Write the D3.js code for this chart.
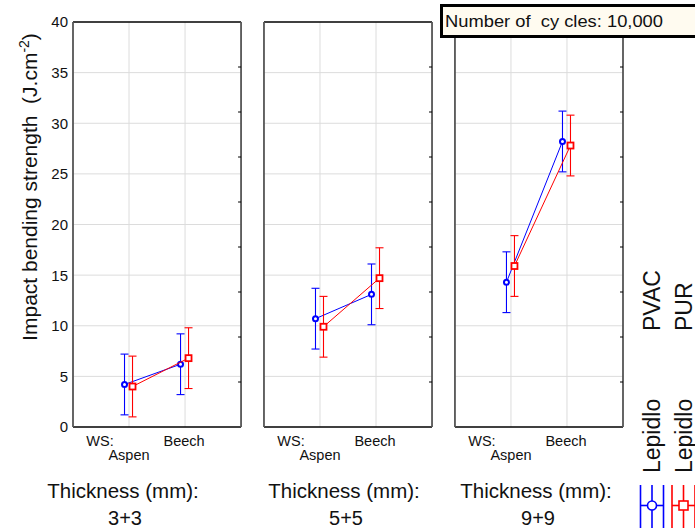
<!DOCTYPE html>
<html><head><meta charset="utf-8">
<script src="https://cdn.jsdelivr.net/npm/d3@7"></script>
<style>body{margin:0;background:#fff}svg{display:block;font-family:"Liberation Sans",Arial,sans-serif}</style>
</head><body><svg id="c" width="695" height="529"></svg>
<script>
const panels = ["3+3", "5+5", "9+9"];
const categories = ["Aspen", "Beech"];
const yTicks = [0, 5, 10, 15, 20, 25, 30, 35, 40];
const seriesNames = ["Lepidlo PVAC", "Lepidlo PUR"];
const pvacMean = [[4.2, 6.2], [10.7, 13.1], [14.3, 28.2]];
const pvacErr  = [[3.0, 3.0], [3.0, 3.0], [3.0, 3.0]];
const purMean  = [[4.0, 6.8], [9.9, 14.7], [15.9, 27.8]];
const purErr   = [[3.0, 3.0], [3.0, 3.0], [3.0, 3.0]];
const cyclesLabel = "Number of  cy cles: 10,000";

const svg = d3.select("#c");
const plotTop = 22, plotBottom = 427;
const px = d3.scaleBand().domain(panels).range([73, 623]).paddingInner(0.12);
const y = d3.scaleLinear().domain([0, 40]).range([plotBottom, plotTop]);
const yr = d3.scaleLinear().domain([0, 9]).range([plotBottom, plotTop]);
const series = [
  {name: seriesNames[0], mean: pvacMean, err: pvacErr, color: "#0000ff", off: -4.5, shape: "circle"},
  {name: seriesNames[1], mean: purMean, err: purErr, color: "#ff0000", off: 3.5, shape: "square"}
];
const thickCenters = [123, 344, 536];

panels.forEach((p, pi) => {
  const x0 = px(p), w = px.bandwidth();
  const x = d3.scalePoint().domain(categories).range([x0, x0 + w]).padding(1);
  const g = svg.append("g");
  g.selectAll(".hg").data(yTicks.slice(1, -1)).join("line")
    .attr("x1", x0).attr("x2", x0 + w).attr("y1", d => y(d)).attr("y2", d => y(d))
    .attr("stroke", "#dcdcdc").attr("stroke-width", 1);
  g.selectAll(".vg").data(categories).join("line")
    .attr("x1", d => x(d)).attr("x2", d => x(d)).attr("y1", plotTop).attr("y2", plotBottom)
    .attr("stroke", "#dcdcdc").attr("stroke-width", 1);
  g.append("line").attr("x1", x0).attr("x2", x0 + w).attr("y1", plotTop).attr("y2", plotTop).attr("stroke", "#000").attr("stroke-width", 1.3);
  g.append("line").attr("x1", x0).attr("x2", x0 + w).attr("y1", plotBottom).attr("y2", plotBottom).attr("stroke", "#000").attr("stroke-width", 1.3);
  g.append("line").attr("x1", x0).attr("x2", x0).attr("y1", plotTop).attr("y2", plotBottom).attr("stroke", "#555").attr("stroke-width", 1.8);
  g.append("line").attr("x1", x0 + w).attr("x2", x0 + w).attr("y1", plotTop).attr("y2", plotBottom).attr("stroke", "#555").attr("stroke-width", 1.8);
  g.selectAll(".rt").data(d3.range(1, 9)).join("line")
    .attr("x1", x0 + w - 3).attr("x2", x0 + w).attr("y1", d => yr(d)).attr("y2", d => yr(d))
    .attr("stroke", "#000").attr("stroke-width", 1);
  if (pi === 0) {
    g.selectAll(".yl").data(yTicks).join("text")
      .attr("x", x0 - 5).attr("y", d => y(d)).attr("dy", "0.36em")
      .attr("text-anchor", "end").attr("font-size", 15).attr("fill", "#111").text(d => d);
  }
  g.append("text").attr("x", x(categories[0]) - 29).attr("y", 446).attr("text-anchor", "middle").attr("font-size", 14.5).attr("fill", "#111").text("WS:");
  g.append("text").attr("x", x(categories[0])).attr("y", 460).attr("text-anchor", "middle").attr("font-size", 14.5).attr("fill", "#111").text(categories[0]);
  g.append("text").attr("x", x(categories[1]) - 1).attr("y", 446).attr("text-anchor", "middle").attr("font-size", 14.5).attr("fill", "#111").text(categories[1]);
  g.append("text").attr("x", thickCenters[pi]).attr("y", 498).attr("text-anchor", "middle").attr("font-size", 20.5).attr("fill", "#111").text("Thickness (mm):");
  g.append("text").attr("x", thickCenters[pi] + 2).attr("y", 525).attr("text-anchor", "middle").attr("font-size", 20).attr("fill", "#111").text(p);

  series.forEach(s => {
    const pts = categories.map((c, ci) => ({x: x(c) + s.off, m: s.mean[pi][ci], e: s.err[pi][ci]}));
    pts.forEach(d => {
      g.append("line").attr("x1", d.x).attr("x2", d.x).attr("y1", y(d.m - d.e)).attr("y2", y(d.m + d.e)).attr("stroke", s.color).attr("stroke-width", 1.1);
      [d.m - d.e, d.m + d.e].forEach(v => g.append("line").attr("x1", d.x - 4).attr("x2", d.x + 4).attr("y1", y(v)).attr("y2", y(v)).attr("stroke", s.color).attr("stroke-width", 1.1));
    });
    g.append("path").attr("d", d3.line().x(d => d.x).y(d => y(d.m))(pts)).attr("fill", "none").attr("stroke", s.color).attr("stroke-width", 1);
    pts.forEach(d => {
      if (s.shape === "circle") g.append("circle").attr("cx", d.x).attr("cy", y(d.m)).attr("r", 2.5).attr("fill", "#fff").attr("stroke", s.color).attr("stroke-width", 2);
      else g.append("rect").attr("x", d.x - 3).attr("y", y(d.m) - 3).attr("width", 6).attr("height", 6).attr("fill", "#fff").attr("stroke", s.color).attr("stroke-width", 1.8);
    });
  });
});

svg.append("text").attr("transform", "translate(37,187) rotate(-90)").attr("text-anchor", "middle")
  .attr("font-size", 21).attr("fill", "#111")
  .html('Impact bending strength\u00a0\u00a0(J.cm<tspan baseline-shift="super" font-size="14">-2</tspan>)');

svg.append("rect").attr("x", 441.5).attr("y", 5.5).attr("width", 270).attr("height", 31)
  .attr("fill", "#fffbf0").attr("stroke", "#000").attr("stroke-width", 3);
svg.append("text").attr("x", 445).attr("y", 27).attr("font-size", 16.5).attr("fill", "#111")
  .attr("textLength", 218).attr("lengthAdjust", "spacingAndGlyphs")
  .attr("xml:space", "preserve").style("white-space", "pre").text(cyclesLabel);

const legX = [652, 683.5];
series.forEach((s, i) => {
  const cx = legX[i], cy = 505.5;
  const parts = s.name.split(" ");
  const t = svg.append("text").attr("transform", `translate(${cx + 8},473) rotate(-90)`).attr("font-size", 23).attr("fill", "#111");
  t.append("tspan").text(parts[0]);
  t.append("tspan").attr("x", 142).text(parts[1]);
  const lg = svg.append("g").attr("stroke", s.color).attr("stroke-width", 1.6).attr("fill", "none");
  [-11.5, 0, 11.5].forEach(dx => lg.append("line").attr("x1", cx + dx).attr("x2", cx + dx).attr("y1", 485).attr("y2", 528));
  lg.append("line").attr("x1", cx - 11.5).attr("x2", cx + 11.5).attr("y1", cy).attr("y2", cy);
  if (s.shape === "circle") lg.append("circle").attr("cx", cx).attr("cy", cy).attr("r", 4.5).attr("fill", "#fff");
  else lg.append("rect").attr("x", cx - 4.5).attr("y", cy - 4.5).attr("width", 9).attr("height", 9).attr("fill", "#fff");
});
</script></body></html>
